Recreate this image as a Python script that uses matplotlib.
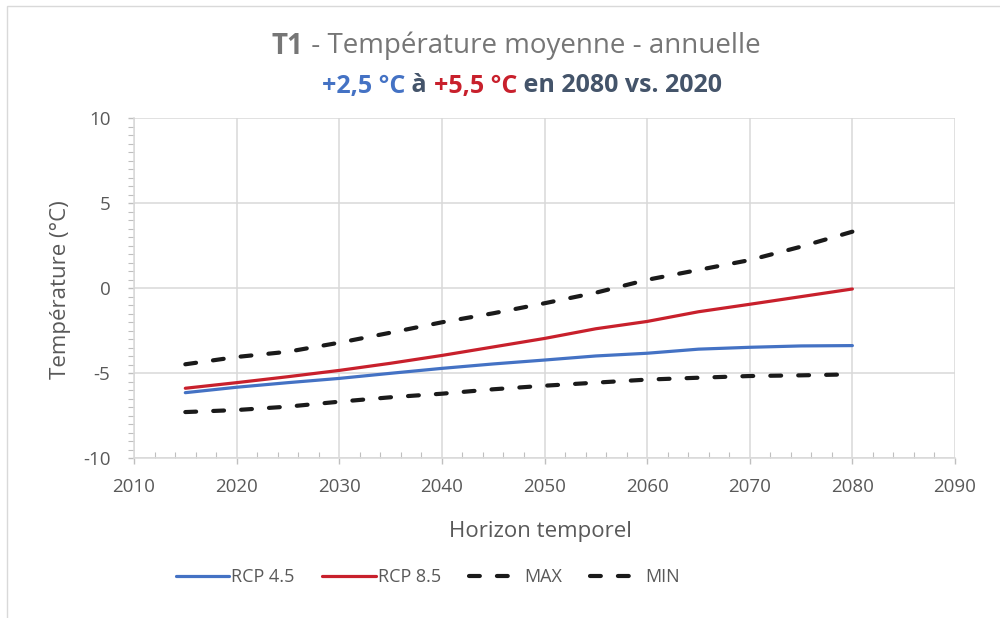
import matplotlib
matplotlib.use("Agg")
import matplotlib.pyplot as plt
from matplotlib.ticker import MultipleLocator
from matplotlib.offsetbox import TextArea, HPacker, AnchoredOffsetbox
from matplotlib.patches import Rectangle

# Mean annual temperature projections (°C)
years = [2015, 2020, 2025, 2030, 2035, 2040, 2045, 2050, 2055, 2060, 2065, 2070, 2075, 2080]
rcp45 = [-6.14, -5.82, -5.55, -5.30, -5.00, -4.71, -4.45, -4.22, -3.98, -3.82, -3.58, -3.47, -3.39, -3.37]
rcp85 = [-5.88, -5.55, -5.20, -4.83, -4.41, -3.95, -3.45, -2.95, -2.38, -1.95, -1.38, -0.94, -0.49, -0.04]
tmax = [-4.47, -4.04, -3.73, -3.20, -2.61, -2.00, -1.47, -0.88, -0.26, 0.50, 1.08, 1.66, 2.45, 3.33]
tmin = [-7.28, -7.16, -6.96, -6.67, -6.41, -6.20, -5.94, -5.73, -5.55, -5.37, -5.26, -5.16, -5.12, -5.06]

series_labels = ["RCP 4.5", "RCP 8.5", "MAX", "MIN"]
xticks = [2010, 2020, 2030, 2040, 2050, 2060, 2070, 2080, 2090]
yticks = [-10, -5, 0, 5, 10]

BLUE = "#4472C4"
RED = "#C8202C"
DARK = "#44546A"
GRAY_TXT = "#595959"
TITLE_GRAY = "#767676"
GRID = "#D9D9D9"

plt.rcParams["font.family"] = ["Open Sans", "DejaVu Sans"]
plt.rcParams["axes.unicode_minus"] = False

fig = plt.figure(figsize=(10, 6.18), dpi=100)
fig.patch.set_facecolor("white")

# light chart-area border
fig.add_artist(Rectangle((7 / 1000, -0.05), 1.2, 1 - 6 / 618 + 0.05,
                         transform=fig.transFigure, fill=False,
                         edgecolor=GRID, linewidth=1.0))

ax = fig.add_axes([0.134, 0.2584, 0.821, 0.5502])

ax.plot(years, rcp45, color=BLUE, lw=2.3, solid_capstyle="round", label=series_labels[0], zorder=3)
ax.plot(years, rcp85, color=RED, lw=2.3, solid_capstyle="round", label=series_labels[1], zorder=3)
for vals, lab in ((tmax, series_labels[2]), (tmin, series_labels[3])):
    ln, = ax.plot(years, vals, color="#1a1a1a", lw=3.0, label=lab, zorder=3)
    ln.set_dashes((2.6, 4.1))
    ln.set_dash_capstyle("round")

ax.set_xlim(2010, 2090)
ax.set_ylim(-10, 10)
ax.set_xticks(xticks)
ax.set_yticks(yticks)
ax.xaxis.set_minor_locator(MultipleLocator(2))
ax.yaxis.set_minor_locator(MultipleLocator(0.5))

ax.grid(True, which="major", color=GRID, linewidth=1.1, zorder=0)
ax.set_axisbelow(True)
for s in ("top", "right"):
    ax.spines[s].set_visible(False)
for s in ("left", "bottom"):
    ax.spines[s].set_color(GRID)
    ax.spines[s].set_linewidth(1.1)

ax.tick_params(axis="both", which="major", length=4, width=1, color="#BFBFBF",
               labelsize=13.5, labelcolor=GRAY_TXT)
ax.tick_params(axis="y", which="major", pad=13)
ax.tick_params(axis="x", which="major", pad=10)
ax.tick_params(axis="y", which="minor", direction="out", length=4, width=0.8, color="#BFBFBF")
ax.tick_params(axis="x", which="minor", direction="in", length=4, width=0.8, color="#BFBFBF")

ax.set_xlabel("Horizon temporel", fontsize=16, color=GRAY_TXT)
ax.set_ylabel("Température (°C)", fontsize=16, color=GRAY_TXT)
ax.xaxis.set_label_coords(0.4945, -0.185)
ax.yaxis.set_label_coords(-0.077, 0.495)


def rich_line(parts, x, y, size):
    areas = [TextArea(t, textprops=dict(color=c, fontsize=size, fontweight=w))
             for t, c, w in parts]
    box = HPacker(children=areas, align="baseline", pad=0, sep=0)
    anchored = AnchoredOffsetbox(loc="center", child=box, pad=0, frameon=False,
                                 bbox_to_anchor=(x, y), bbox_transform=fig.transFigure,
                                 borderpad=0)
    fig.add_artist(anchored)


rich_line([("T1", TITLE_GRAY, "bold"),
           (" - Température moyenne - annuelle", TITLE_GRAY, "normal")],
          0.516, 1 - 46 / 618, 20)
rich_line([("+2,5 °C", BLUE, "bold"),
           (" à ", DARK, "bold"),
           ("+5,5 °C", RED, "bold"),
           (" en 2080 vs. 2020", DARK, "bold")],
          0.522, 1 - 86 / 618, 18)

leg = fig.legend(loc="center", bbox_to_anchor=(0.428, 1 - 577 / 618), ncol=4,
                 frameon=False, fontsize=13, handlelength=2.95, handletextpad=0.12,
                 columnspacing=1.55, labelcolor=GRAY_TXT)

fig.savefig("out.png", dpi=100, facecolor="white")
